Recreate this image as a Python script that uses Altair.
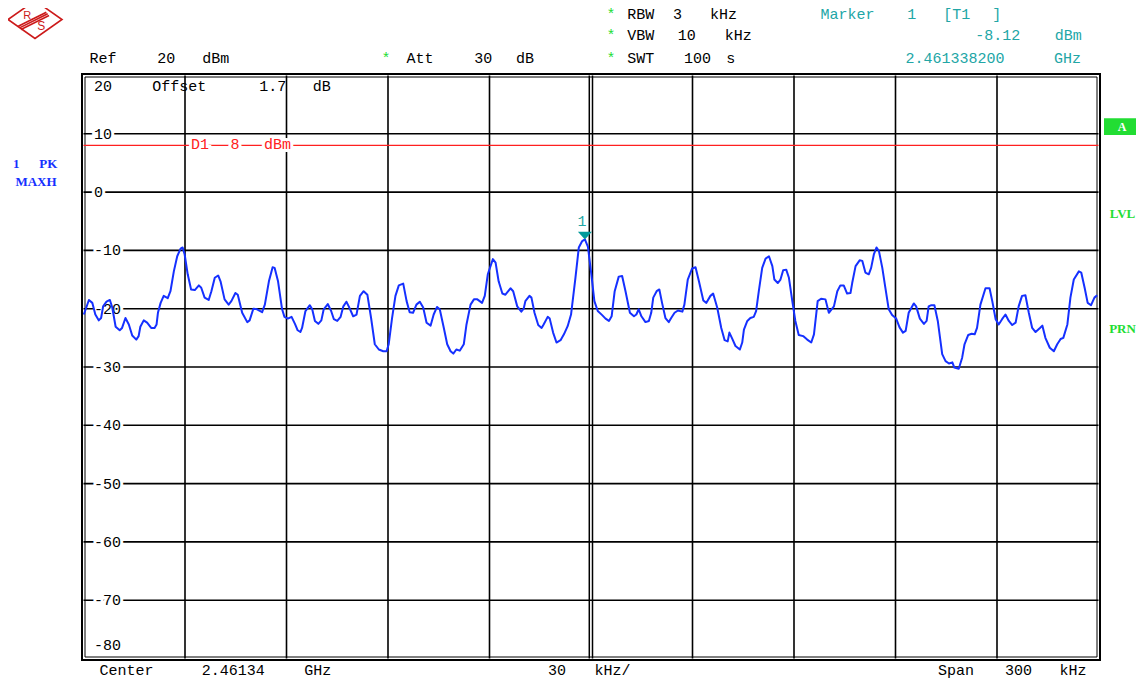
import altair as alt
import pandas as pd

# ---------------- data ----------------
freq_khz = [
    -149.9, -148.4, -147.4, -146.5, -145.5, -144.8, -144.2, -143.2, -142.2, -141.5,
    -140.5, -139.3, -138.6, -137.6, -136.6, -135.6, -134.4, -133.7, -133.2, -132.2,
    -131.2, -130.0, -129.0, -128.4, -128.0, -127.2, -126.3, -125.1, -124.3, -123.3,
    -122.3, -121.3, -120.7, -120.1, -119.2, -118.2, -117.1, -115.9, -115.2, -114.2,
    -113.0, -112.2, -111.2, -110.2, -109.5, -108.3, -107.1, -106.3, -105.1, -104.4,
    -103.1, -101.6, -100.9, -99.8, -98.7, -97.2, -96.4, -95.2, -94.1, -93.5,
    -92.5, -91.3, -90.6, -89.6, -88.5, -87.5, -86.7, -85.9, -85.4, -84.4,
    -83.1, -82.4, -81.6, -80.6, -79.7, -79.0, -77.8, -76.8,
    -76.0, -75.0, -74.0, -73.2, -72.3, -71.6, -70.3, -69.3, -68.3, -67.2,
    -66.1, -65.0, -63.9, -62.7, -61.4, -60.4, -59.8, -58.8, -57.8, -56.8,
    -55.5, -54.5, -53.6, -52.6, -51.6, -50.6, -49.6, -48.6, -47.4, -46.5,
    -45.5, -44.7, -43.5, -42.5, -41.5, -40.7, -39.8, -38.8, -37.6, -36.8,
    -35.6, -34.6, -33.6, -32.2, -31.4, -30.5, -29.0, -28.2, -27.3, -26.2,
    -25.3, -23.8, -23.0, -21.8, -20.6, -19.9, -19.4, -18.2, -17.6, -16.7,
    -15.6, -14.6, -14.0, -12.8, -12.2, -11.2, -10.2, -9.0, -8.0, -6.9,
    -5.9, -4.6, -3.6, -2.6, -1.8, -0.9,
    0.1, 1.0, 2.0, 3.3, 4.3, 5.3, 6.1, 7.0, 8.2, 9.2,
    10.2, 11.5, 12.7, 13.4, 14.1, 14.9, 16.1, 17.1, 17.8, 18.4,
    19.4, 20.2, 21.0, 22.0, 23.0, 23.7, 24.7, 25.7, 27.0, 27.6,
    28.6, 29.9, 30.9, 31.9, 33.2, 34.1, 35.3, 36.1, 37.3, 38.5,
    39.5, 40.4, 40.9, 41.7, 42.7, 44.0, 44.7, 45.2, 46.2, 47.1,
    48.1, 48.8, 49.6, 50.6, 51.6, 52.6, 53.6, 54.2, 55.2, 56.0,
    56.8, 57.7, 58.5, 59.5, 60.4, 61.4, 62.7, 63.9, 65.1, 65.9,
    67.0, 68.0, 69.3, 70.3,
    71.8, 72.8, 73.7, 74.7, 75.7, 76.7, 77.2, 78.2, 79.4, 80.2,
    81.1, 82.1, 82.8, 83.6, 84.4, 85.1, 86.1, 87.0, 88.0, 89.0,
    90.2, 91.2, 92.2, 93.0, 93.9, 95.4, 96.1, 97.2, 98.4, 99.2,
    99.8, 100.6, 101.5, 102.5, 103.8, 104.8, 105.8, 106.8, 107.4, 108.7,
    109.7, 110.4, 111.5, 112.5, 113.4, 114.1, 115.1, 116.6, 117.8, 118.6,
    119.6, 120.5, 121.5, 122.5, 123.5, 124.5, 125.5, 126.4, 127.4, 128.4,
    129.4, 130.4, 131.4, 132.7, 133.4, 134.3, 135.6, 136.8, 137.8, 138.8,
    139.6, 140.8, 141.7, 142.7, 144.2, 144.9, 145.9, 146.8, 147.8, 148.8,
    149.6,
]
level_dbm = [
    -21.0, -18.5, -19.0, -21.0, -22.0, -21.6, -19.6, -18.8, -18.5, -19.8,
    -23.1, -23.7, -23.3, -21.6, -22.7, -24.6, -25.3, -24.7, -23.1, -22.0,
    -22.4, -23.3, -23.3, -22.7, -20.7, -19.0, -17.8, -18.2, -17.0, -13.6,
    -11.0, -9.7, -9.5, -10.7, -14.1, -16.7, -16.8, -16.0, -16.4, -18.1,
    -18.5, -17.0, -14.7, -14.3, -15.3, -18.4, -19.3, -18.7, -17.3, -17.6,
    -20.7, -22.3, -22.0, -20.0, -20.1, -20.6, -19.3, -15.3, -12.9, -13.0,
    -15.3, -20.1, -21.4, -21.7, -21.4, -22.6, -23.7, -24.0, -23.3, -20.4,
    -19.4, -20.1, -22.1, -22.6, -22.0, -20.1, -19.2, -20.4,
    -21.8, -22.1, -21.4, -19.6, -18.8, -19.6, -21.3, -21.0, -17.8, -17.0,
    -17.6, -21.6, -26.1, -27.0, -27.3, -27.3, -26.1, -21.6, -17.8, -16.0,
    -15.7, -18.7, -20.6, -20.7, -19.3, -18.8, -19.8, -22.4, -22.9, -21.0,
    -19.7, -20.1, -23.3, -26.1, -27.3, -27.7, -27.0, -27.2, -26.1, -22.7,
    -19.3, -18.4, -18.4, -19.0, -17.8, -14.1, -11.5, -12.1, -15.3, -17.4,
    -17.6, -16.5, -17.0, -19.6, -20.5, -20.0, -18.7, -17.8, -18.1, -20.7,
    -22.8, -23.3, -22.7, -21.4, -21.7, -24.1, -25.8, -25.4, -24.4, -23.0,
    -21.0, -14.7, -9.5, -8.4, -8.12, -9.4,
    -14.1, -18.7, -20.4, -21.1, -21.7, -22.1, -21.3, -17.0, -14.5, -14.4,
    -17.0, -20.7, -21.3, -21.0, -20.1, -21.3, -22.3, -22.1, -20.7, -18.1,
    -17.0, -16.7, -19.0, -21.6, -22.3, -21.6, -20.7, -20.3, -20.5, -19.3,
    -15.0, -13.1, -12.9, -15.3, -18.6, -19.0, -17.8, -17.4, -19.8, -23.3,
    -25.4, -25.6, -24.1, -25.1, -26.4, -27.0, -25.8, -23.6, -22.1, -21.6,
    -21.4, -20.4, -17.0, -13.0, -11.4, -11.0, -12.7, -15.0, -15.6, -15.0,
    -13.4, -13.3, -14.7, -18.7, -22.1, -24.5, -24.7, -25.3, -25.8, -24.4,
    -18.7, -18.3, -18.4, -20.7,
    -19.6, -17.0, -16.0, -16.0, -17.4, -17.3, -15.6, -12.7, -11.7, -11.8,
    -13.8, -14.1, -13.0, -10.7, -9.5, -10.1, -13.0, -16.4, -20.1, -21.1,
    -21.7, -23.2, -24.1, -23.8, -20.7, -19.1, -19.6, -21.7, -22.6, -22.1,
    -19.6, -19.4, -19.4, -22.1, -27.8, -29.0, -29.4, -29.2, -30.1, -30.3,
    -28.4, -26.1, -24.5, -24.3, -24.4, -23.3, -19.3, -16.5, -16.5, -18.7,
    -21.8, -22.7, -21.8, -21.0, -22.1, -22.8, -22.4, -19.6, -17.8, -17.7,
    -20.7, -23.3, -24.0, -23.3, -22.9, -25.0, -26.7, -27.3, -26.1, -25.2,
    -25.0, -22.7, -18.1, -15.0, -13.6, -13.8, -16.4, -19.0, -19.4, -18.1,
    -17.7,
]

y_grid = [10, 0, -10, -20, -30, -40, -50, -60, -70]
y_label_top = 20
y_label_bottom = -80
x_grid = [-120, -90, -60, -30, 30, 60, 90, 120]
display_line = [8]
marker_freq = [-1.8]
marker_level = [-8.12]

# ---------------- layout / style ----------------
W, H = 1015, 583
X0, Y0 = 83.5, 75.5          # page position of the plot area's top-left corner
FONT = "Liberation Mono, Courier New, Courier, DejaVu Sans Mono, monospace"
BOLD_FONT = "Liberation Serif, Times New Roman, serif"
FS = 15
BLUE = "#1530ff"
TEAL = "#22a6a6"
TEAL_DARK = "#009a9a"
GREEN = "#22dd33"
RED = "#ff2020"
LOGO_RED = "#cc1a1a"

xs = alt.Scale(domain=[-150, 150], nice=False, zero=False)
ys = alt.Scale(domain=[-80, 20], nice=False, zero=False)
one = pd.DataFrame({"k": [0]})

trace_df = pd.DataFrame({"f": freq_khz, "p": level_dbm})


def word(s, x_start, x_end, base_y, color="#000000", size=FS, weight="normal",
         font=FONT, baseline="alphabetic", halo=False):
    """A piece of text centred on the span it takes in the reference (page px)."""
    cx = (x_start + x_end) / 2 - X0
    cy = base_y - Y0
    out = []
    if halo:
        out.append(alt.Chart(one).mark_text(
            text=s, font=font, fontSize=size, fontWeight=weight, align="center",
            baseline=baseline, color="white", stroke="white", strokeWidth=6
        ).encode(x=alt.value(cx), y=alt.value(cy)))
    out.append(alt.Chart(one).mark_text(
        text=s, font=font, fontSize=size, fontWeight=weight, align="center",
        baseline=baseline, color=color
    ).encode(x=alt.value(cx), y=alt.value(cy)))
    return out


layers = []

# grid
layers.append(alt.Chart(pd.DataFrame({"f": x_grid})).mark_rule(
    color="#000000", strokeWidth=1.6).encode(x=alt.X("f:Q", scale=xs, axis=None)))
layers.append(alt.Chart(pd.DataFrame({"p": y_grid})).mark_rule(
    color="#000000", strokeWidth=1.6).encode(y=alt.Y("p:Q", scale=ys, axis=None)))
# double centre line
for cx in (505.8, 509.0):
    layers.append(alt.Chart(one).mark_rule(color="#000000", strokeWidth=1.5).encode(
        x=alt.value(cx), y=alt.value(0), y2=alt.value(H)))
# double frame
layers.append(alt.Chart(one).mark_rect(fillOpacity=0, stroke="#000000", strokeWidth=2).encode(
    x=alt.value(-1.5), x2=alt.value(W + 1.5), y=alt.value(-1.5), y2=alt.value(H + 1.5)))
layers.append(alt.Chart(one).mark_rect(fillOpacity=0, stroke="#000000", strokeWidth=1).encode(
    x=alt.value(1.5), x2=alt.value(W - 1.5), y=alt.value(1.5), y2=alt.value(H - 1.5)))

# level labels inside the plot
ylab = pd.DataFrame({"p": y_grid, "t": [str(v) for v in y_grid]})
layers.append(alt.Chart(ylab).mark_text(
    font=FONT, fontSize=FS, align="left", baseline="middle", color="white",
    stroke="white", strokeWidth=6).encode(
    x=alt.value(10.5), y=alt.Y("p:Q", scale=ys, axis=None), text="t:N"))
layers.append(alt.Chart(ylab).mark_text(
    font=FONT, fontSize=FS, align="left", baseline="middle", color="#000000").encode(
    x=alt.value(10.5), y=alt.Y("p:Q", scale=ys, axis=None), text="t:N"))
layers.append(alt.Chart(pd.DataFrame({"p": [y_label_top], "t": [str(y_label_top)]})).mark_text(
    font=FONT, fontSize=FS, align="left", baseline="alphabetic", dy=15.5, color="#000000").encode(
    x=alt.value(10.5), y=alt.Y("p:Q", scale=ys, axis=None), text="t:N"))
layers.append(alt.Chart(pd.DataFrame({"p": [y_label_bottom], "t": [str(y_label_bottom)]})).mark_text(
    font=FONT, fontSize=FS, align="left", baseline="alphabetic", dy=-8.5, color="#000000").encode(
    x=alt.value(10.5), y=alt.Y("p:Q", scale=ys, axis=None), text="t:N"))
layers += word("Offset", 138.3, 220, 91)
layers += word("1.7", 252.3, 293.3, 91)
layers += word("dB", 308.3, 335, 91)

# display line D1
layers.append(alt.Chart(pd.DataFrame({"p": display_line})).mark_rule(
    color=RED, strokeWidth=1.3).encode(y=alt.Y("p:Q", scale=ys, axis=None)))
layers += word("D1", 186.7, 213.3, 144.4, color=RED, baseline="middle", halo=True)
layers += word("8", 230, 240, 144.4, color=RED, baseline="middle", halo=True)
layers += word("dBm", 256.7, 298.3, 144.4, color=RED, baseline="middle", halo=True)

# trace
layers.append(alt.Chart(trace_df).mark_line(
    color=BLUE, strokeWidth=2, strokeJoin="round").encode(
    x=alt.X("f:Q", scale=xs, axis=None), y=alt.Y("p:Q", scale=ys, axis=None)))

# marker 1
mk = pd.DataFrame({"f": marker_freq, "p": marker_level})
layers.append(alt.Chart(mk).mark_point(
    shape="M -1 -1.1 L 1 -1.1 L 0 0 Z", filled=True, fill=TEAL_DARK, stroke=None,
    size=196, opacity=1).encode(
    x=alt.X("f:Q", scale=xs, axis=None), y=alt.Y("p:Q", scale=ys, axis=None)))
layers.append(alt.Chart(mk).mark_text(
    text="1", font=FONT, fontSize=FS, color=TEAL, baseline="alphabetic", dy=-13, dx=-3).encode(
    x=alt.X("f:Q", scale=xs, axis=None), y=alt.Y("p:Q", scale=ys, axis=None)))

# header rows
for row_y, items in [
    (19, [("RBW", 620, 661.7), ("3", 673, 682), ("kHz", 700, 747)]),
    (40, [("VBW", 620, 661.7), ("10", 673.3, 700), ("kHz", 716.7, 760)]),
    (62.7, [("Ref", 83.3, 122.7), ("20", 156, 176.7), ("dBm", 196.7, 235),
            ("Att", 400, 440), ("30", 471.7, 495), ("dB", 510, 540),
            ("SWT", 620, 661.7), ("100", 678.3, 716.7), ("s", 726.7, 735)]),
]:
    for s, a, b in items:
        layers += word(s, a, b, row_y)
for sx, sy in [(611, 19), (611, 40), (611, 62.7), (386, 62.7)]:
    layers += word("*", sx - 4, sx + 4, sy, color=GREEN)
for s, a, b, row_y in [
    ("Marker", 806.7, 888.3, 19), ("1", 906.7, 916.7, 19), ("[T1", 938.3, 975, 19), ("]", 993.3, 1000, 19),
    ("-8.12", 964, 1031.7, 40), ("dBm", 1046.7, 1090, 40),
    ("2.461338200", 878.3, 1031.7, 62.7), ("GHz", 1046.7, 1088.3, 62.7),
]:
    layers += word(s, a, b, row_y, color=TEAL)

# footer row
for s, a, b in [("Center", 85, 168), ("2.46134", 186, 280.5), ("GHz", 297.7, 337.8),
                ("30", 544, 570), ("kHz/", 585, 640),
                ("Span", 927, 985), ("300", 997, 1040), ("kHz", 1053, 1093)]:
    layers += word(s, a, b, 674.5)

# left trace info
layers += word("1", 12.7, 20, 168.3, color=BLUE, size=13, weight="bold", font=BOLD_FONT)
layers += word("PK", 36.7, 60, 168.3, color=BLUE, size=13, weight="bold", font=BOLD_FONT)
layers += word("MAXH", 12, 60, 186, color=BLUE, size=13, weight="bold", font=BOLD_FONT)

# right side status
layers.append(alt.Chart(one).mark_rect(fill=GREEN).encode(
    x=alt.value(1104 - X0), x2=alt.value(1141 - X0), y=alt.value(118.3 - Y0), y2=alt.value(135 - Y0)))
layers += word("A", 1117, 1127, 126.7, color="white", size=12, weight="bold",
               font=BOLD_FONT, baseline="middle")
layers += word("LVL", 1105, 1140, 218.3, color=GREEN, size=13, weight="bold", font=BOLD_FONT)
layers += word("PRN", 1105, 1140, 333.3, color=GREEN, size=13, weight="bold", font=BOLD_FONT)

# R&S logo
layers.append(alt.Chart(one).mark_point(
    shape="M -1 0 L 0 -0.7 L 1 0 L 0 0.7 Z "
          "M -0.62 0.25 L 0.42 -0.27 M -0.57 0.31 L 0.47 -0.21 M -0.52 0.37 L 0.52 -0.15",
    filled=False, stroke=LOGO_RED, strokeWidth=1.6, size=2916, opacity=1).encode(
    x=alt.value(35 - X0), y=alt.value(19.5 - Y0)))
layers += word("R", 22.7, 31.7, 19, color=LOGO_RED, size=11, font="Liberation Sans, Arial, sans-serif")
layers += word("S", 36.7, 46, 30, color=LOGO_RED, size=12, font="Liberation Sans, Arial, sans-serif")

chart = alt.layer(*layers).properties(
    width=W, height=H,
    padding={"left": X0 - 8, "top": Y0 - 8, "right": 37, "bottom": 20},
    autosize=alt.AutoSizeParams(type="none"),
    background="white",
).configure_view(stroke=None)

chart.save("out.html", embed_options={"renderer": "svg", "actions": False})
